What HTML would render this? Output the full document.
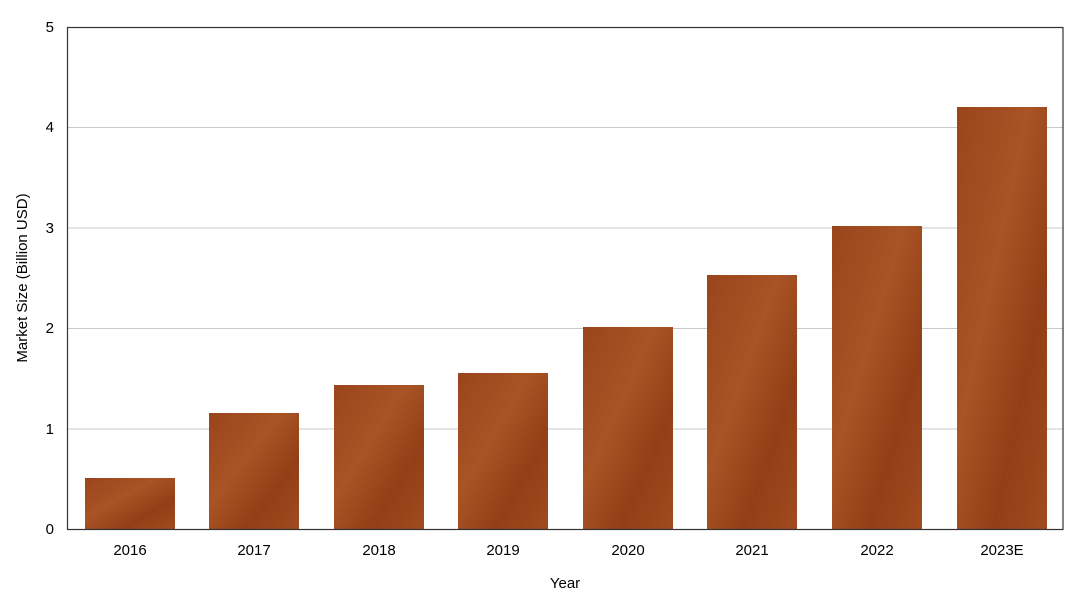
<!DOCTYPE html>
<html><head><style>
body{margin:0;background:#fff;}
svg text{font-family:"Liberation Sans",sans-serif;fill:#000;}
</style></head><body>
<svg width="1080" height="604" xmlns="http://www.w3.org/2000/svg">
<defs>
<linearGradient id="g" x1="0" y1="0" x2="1" y2="1">
<stop offset="0" stop-color="#9a441c"/>
<stop offset="0.4" stop-color="#a85425"/>
<stop offset="0.7" stop-color="#923f17"/>
<stop offset="1" stop-color="#a04b20"/>
</linearGradient>
</defs>
<g stroke="#c8c8c8" stroke-width="1">
<line x1="67" x2="1063" y1="127.5" y2="127.5"/>
<line x1="67" x2="1063" y1="228" y2="228"/>
<line x1="67" x2="1063" y1="328.5" y2="328.5"/>
<line x1="67" x2="1063" y1="429" y2="429"/>
</g>
<g fill="url(#g)">
<rect x="85" y="478" width="90" height="51"/>
<rect x="209" y="413" width="90" height="116"/>
<rect x="334" y="385" width="90" height="144"/>
<rect x="458" y="373" width="90" height="156"/>
<rect x="583" y="327" width="90" height="202"/>
<rect x="707" y="275" width="90" height="254"/>
<rect x="832" y="226" width="90" height="303"/>
<rect x="957" y="107" width="90" height="422"/>
</g>
<rect x="67.5" y="27.5" width="995.5" height="502" fill="none" stroke="#333" stroke-width="1.2"/>
<g font-size="15" text-anchor="end">
<text x="54" y="534">0</text>
<text x="54" y="434">1</text>
<text x="54" y="333">2</text>
<text x="54" y="233">3</text>
<text x="54" y="132">4</text>
<text x="54" y="32">5</text>
</g>
<g font-size="15" text-anchor="middle">
<text x="130" y="555">2016</text>
<text x="254" y="555">2017</text>
<text x="379" y="555">2018</text>
<text x="503" y="555">2019</text>
<text x="628" y="555">2020</text>
<text x="752" y="555">2021</text>
<text x="877" y="555">2022</text>
<text x="1002" y="555">2023E</text>
<text x="565" y="588">Year</text>
<text transform="translate(27,278) rotate(-90)">Market Size (Billion USD)</text>
</g>
</svg>
</body></html>
